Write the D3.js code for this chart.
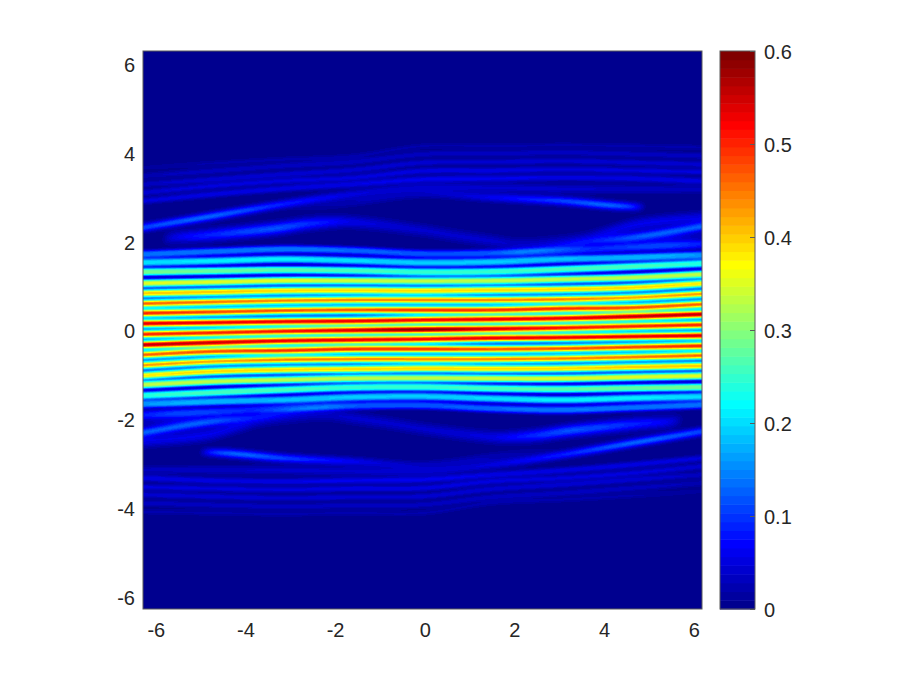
<!DOCTYPE html>
<html>
<head>
<meta charset="utf-8">
<style>
html,body{margin:0;padding:0;background:#fff;}
svg{display:block;}
text{font-family:"Liberation Sans",Arial,sans-serif;}
</style>
<script src="https://cdn.jsdelivr.net/npm/d3@7"></script>
</head>
<body>
<svg id="chart" width="913" height="685"></svg>
<script>
// ---- tick labels -------------------------------------------------------
const axisTicks = [-6, -4, -2, 0, 2, 4, 6];
const colorTicks = [0, 0.1, 0.2, 0.3, 0.4, 0.5, 0.6];
const colorDomain = [0, 0.6];
const yDomain = [-6.29, 6.27];
const xAxisDomain = [-6.285, 6.185];
const fieldXDomain = [-6.283, 6.283];

// ---- crest lines of the field -------------------------------------------
// x positions where the crests of the stripes were read
const xKnots = [-6.28, -4.71, -3.14, -1.57, 0, 1.57, 3.14, 4.71, 6.28];

// central crest (through the origin, drawn once)
const centerY = [-0.106, -0.072, -0.038, -0.016, 0, 0.016, 0.038, 0.072, 0.106];
const centerV = [0.50, 0.50, 0.51, 0.54, 0.59, 0.54, 0.51, 0.50, 0.50];
const centerW = 0.09;

// stripes of the upper half; the lower half repeats them through the origin
const stripeY = [
  [0.135, 0.157, 0.180, 0.193, 0.216, 0.232, 0.254, 0.293, 0.344],
  [0.367, 0.396, 0.427, 0.441, 0.439, 0.441, 0.472, 0.495, 0.569],
  [0.585, 0.621, 0.652, 0.666, 0.666, 0.666, 0.682, 0.720, 0.803],
  [0.817, 0.846, 0.877, 0.884, 0.877, 0.891, 0.907, 0.945, 1.035],
  [1.042, 1.071, 1.102, 1.102, 1.093, 1.102, 1.132, 1.170, 1.244],
  [1.296, 1.318, 1.341, 1.327, 1.295, 1.305, 1.357, 1.417, 1.485],
  [1.507, 1.543, 1.582, 1.552, 1.505, 1.521, 1.582, 1.620, 1.672],
  [1.694, 1.755, 1.807, 1.777, 1.705, 1.717, 1.769, 1.845, 1.919]
];
const stripeV = [
  [0.54, 0.53, 0.53, 0.53, 0.52, 0.53, 0.53, 0.55, 0.56],
  [0.50, 0.48, 0.47, 0.47, 0.49, 0.49, 0.49, 0.47, 0.46],
  [0.46, 0.45, 0.44, 0.44, 0.44, 0.44, 0.44, 0.42, 0.43],
  [0.40, 0.40, 0.39, 0.39, 0.39, 0.39, 0.39, 0.39, 0.38],
  [0.35, 0.35, 0.35, 0.34, 0.33, 0.33, 0.33, 0.33, 0.33],
  [0.29, 0.28, 0.27, 0.26, 0.25, 0.25, 0.26, 0.26, 0.24],
  [0.20, 0.21, 0.21, 0.20, 0.19, 0.19, 0.18, 0.17, 0.15],
  [0.14, 0.14, 0.14, 0.13, 0.12, 0.12, 0.10, 0.07, 0.05]
];
const stripeW = [0.09, 0.09, 0.09, 0.09, 0.09, 0.09, 0.09, 0.09];
const stripeShape = [2, 2, 2, 2.3, 2.6, 3, 3, 2.6];

// faint filaments of the outer band, each with its own x positions
const filamentX = [
  [-6.28, -4.71, -3.14, -1.57, 0, 1.57, 3.14, 4.71, 6.28],
  [-5.9, -5.6, -4.86, -3.36, -2.46, -1.59, 0, 0.69, 1.57, 2.19, 3.14, 3.7, 4.83, 6.28],
  [1.45, 2.58, 3.7, 4.83, 6.28],
  [3.8, 4.7, 5.5, 6.28],
  [-3.14, -1.59, 0, 1.57, 3.14, 4.15, 4.71, 5.05],
  [-6.28, -4.71, -3.14, -1.57, 0, 1.57, 3.14, 4.71, 6.28],
  [-6.28, -4.71, -3.14, -1.57, 0, 1.57, 3.14, 4.71, 6.28],
  [-6.28, -4.71, -3.14, -1.57, 0, 1.57, 3.14, 4.71, 6.28],
  [-6.28, -4.71, -3.14, -1.57, 0, 1.57, 3.14, 4.71, 6.28],
  [-6.28, -4.71, -3.14, -1.57, 0, 1.57, 3.14, 4.71, 6.28]
];
const filamentY = [
  [2.295, 2.556, 2.819, 3.044, 3.195, 3.19, 3.17, 3.16, 3.156],
  [2.016, 2.07, 2.12, 2.27, 2.39, 2.42, 2.234, 2.12, 1.993, 1.919, 1.99, 2.07, 2.37, 2.52],
  [1.694, 1.807, 1.957, 2.09, 2.317],
  [1.95, 1.95, 1.96, 1.98],
  [2.668, 2.857, 3.044, 2.97, 2.893, 2.803, 2.767, 2.767],
  [2.894, 3.044, 3.171, 3.269, 3.381, 3.40, 3.419, 3.40, 3.344],
  [3.081, 3.231, 3.344, 3.419, 3.569, 3.58, 3.606, 3.58, 3.546],
  [3.269, 3.381, 3.494, 3.591, 3.756, 3.77, 3.793, 3.76, 3.719],
  [3.456, 3.569, 3.681, 3.771, 3.944, 3.96, 3.981, 3.95, 3.906],
  [3.644, 3.741, 3.831, 3.906, 4.13, 4.13, 4.15, 4.13, 4.10]
];
const filamentV = [
  [0.11, 0.125, 0.085, 0.05, 0.04, 0.04, 0.04, 0.035, 0.03],
  [0, 0.05, 0.085, 0.115, 0.09, 0.055, 0.04, 0.04, 0.04, 0.035, 0.035, 0.04, 0.055, 0.055],
  [0, 0.035, 0.06, 0.09, 0.115],
  [0, 0.04, 0.055, 0.035],
  [0, 0.025, 0.03, 0.06, 0.105, 0.125, 0.09, 0],
  [0.05, 0.055, 0.055, 0.055, 0.06, 0.06, 0.055, 0.055, 0.055],
  [0.045, 0.05, 0.05, 0.05, 0.055, 0.055, 0.05, 0.05, 0.05],
  [0.035, 0.045, 0.045, 0.045, 0.045, 0.045, 0.045, 0.045, 0.045],
  [0.025, 0.035, 0.035, 0.035, 0.035, 0.035, 0.035, 0.035, 0.035],
  [0.012, 0.02, 0.02, 0.02, 0.02, 0.02, 0.02, 0.02, 0.02]
];
const filamentW = [0.1, 0.14, 0.1, 0.24, 0.1, 0.075, 0.07, 0.07, 0.07, 0.07];

// ---- layout ------------------------------------------------------------
const plot = {left: 143, right: 702, top: 51, bottom: 609};
const bar = {left: 720, right: 755, top: 51, bottom: 609};
const axisColor = "#262626";
const edgeColor = "#5a5a5a";
const fontSize = 20;

const x = d3.scaleLinear().domain(xAxisDomain).range([plot.left, plot.right]);
const y = d3.scaleLinear().domain(yDomain).range([plot.bottom, plot.top]);
const fieldX = d3.scaleLinear().domain(fieldXDomain).range([plot.left, plot.right]);
const barY = d3.scaleLinear().domain(colorDomain).range([bar.bottom, bar.top]);

// MATLAB jet, 64 levels
function jetLevels(m) {
  const n = Math.ceil(m / 4), u = [];
  for (let i = 1; i <= n; i++) u.push(i / n);
  for (let i = 1; i < n; i++) u.push(1);
  for (let i = n; i >= 1; i--) u.push(i / n);
  const off = Math.ceil(n / 2) - (m % 4 === 1 ? 1 : 0);
  const out = d3.range(m).map(() => [0, 0, 0]);
  u.forEach((val, j) => {
    const g = off + j, r = g + n, b = g - n;
    if (r < m) out[r][0] = val;
    if (g < m) out[g][1] = val;
    if (b >= 0 && b < m) out[b][2] = val;
  });
  return out.map(c => d3.rgb(c[0] * 255, c[1] * 255, c[2] * 255));
}
const levels = jetLevels(64);
const color = d3.scaleQuantize().domain(colorDomain).range(levels);

// smooth curve through read points (Catmull-Rom on uneven knots)
function through(xs, ys) {
  const n = xs.length;
  const slope = xs.map((_, i) => {
    if (i === 0) return (ys[1] - ys[0]) / (xs[1] - xs[0]);
    if (i === n - 1) return (ys[n - 1] - ys[n - 2]) / (xs[n - 1] - xs[n - 2]);
    return (ys[i + 1] - ys[i - 1]) / (xs[i + 1] - xs[i - 1]);
  });
  return t => {
    if (t <= xs[0]) return ys[0];
    if (t >= xs[n - 1]) return ys[n - 1];
    const i = Math.max(0, d3.bisectRight(xs, t) - 1);
    const h = xs[i + 1] - xs[i], s = (t - xs[i]) / h;
    const s2 = s * s, s3 = s2 * s;
    return (2 * s3 - 3 * s2 + 1) * ys[i] + (s3 - 2 * s2 + s) * h * slope[i]
         + (-2 * s3 + 3 * s2) * ys[i + 1] + (s3 - s2) * h * slope[i + 1];
  };
}

const crests = [];
function addCrest(xs, ys, vs, w, p, mirrored) {
  crests.push({ya: through(xs, ys), va: through(xs, vs), w, p, mirrored, xMin: xs[0], xMax: xs[xs.length - 1]});
}
addCrest(xKnots, centerY, centerV, centerW, 2, false);
stripeY.forEach((s, i) => addCrest(xKnots, s, stripeV[i], stripeW[i], stripeShape[i], true));
filamentY.forEach((s, i) => addCrest(filamentX[i], s, filamentV[i], filamentW[i], 2, true));

// paint the field cell by cell
const imgW = plot.right - plot.left, imgH = plot.bottom - plot.top;
const cnv = document.createElement("canvas");
cnv.width = imgW; cnv.height = imgH;
const ctx = cnv.getContext("2d");
const img = ctx.createImageData(imgW, imgH);
const rowY = d3.range(imgH).map(r => y.invert(plot.top + r + 0.5));
for (let c = 0; c < imgW; c++) {
  const t = fieldX.invert(plot.left + c + 0.5);
  const active = [];
  crests.forEach(cr => {
    if (t >= cr.xMin && t <= cr.xMax) active.push({y: cr.ya(t), v: Math.max(0, cr.va(t)), w: cr.w, p: cr.p});
    if (cr.mirrored && -t >= cr.xMin && -t <= cr.xMax) active.push({y: -cr.ya(-t), v: Math.max(0, cr.va(-t)), w: cr.w, p: cr.p});
  });
  for (let r = 0; r < imgH; r++) {
    let val = 0;
    for (const a of active) {
      const d = Math.abs(rowY[r] - a.y) / a.w;
      if (d < 3.5) val += a.v * Math.exp(-Math.pow(d, a.p));
    }
    const col = color(Math.min(0.6, val));
    const k = 4 * (r * imgW + c);
    img.data[k] = col.r; img.data[k + 1] = col.g; img.data[k + 2] = col.b; img.data[k + 3] = 255;
  }
}
ctx.putImageData(img, 0, 0);

const svg = d3.select("#chart");
svg.append("image")
  .attr("x", plot.left).attr("y", plot.top)
  .attr("width", imgW).attr("height", imgH)
  .attr("preserveAspectRatio", "none")
  .attr("href", cnv.toDataURL());

svg.append("rect")
  .attr("x", plot.left).attr("y", plot.top)
  .attr("width", imgW).attr("height", imgH)
  .attr("fill", "none").attr("stroke", edgeColor).attr("stroke-width", 1);

// axes
const gx = svg.append("g").attr("transform", `translate(0,${plot.bottom})`)
  .call(d3.axisBottom(x).tickValues(axisTicks).tickSize(0).tickPadding(14).tickFormat(String));
const gy = svg.append("g").attr("transform", `translate(${plot.left},0)`)
  .call(d3.axisLeft(y).tickValues(axisTicks).tickSize(0).tickPadding(8).tickFormat(String));

// colour bar
const levelH = (bar.bottom - bar.top) / levels.length;
svg.append("g").selectAll("rect").data(levels).join("rect")
  .attr("x", bar.left)
  .attr("width", bar.right - bar.left)
  .attr("y", (d, i) => barY(colorDomain[0] + (i + 1) * (colorDomain[1] - colorDomain[0]) / levels.length))
  .attr("height", levelH + 0.5)
  .attr("fill", d => d);
svg.append("rect")
  .attr("x", bar.left).attr("y", bar.top)
  .attr("width", bar.right - bar.left).attr("height", bar.bottom - bar.top)
  .attr("fill", "none").attr("stroke", edgeColor).attr("stroke-width", 1);
const gc = svg.append("g").attr("transform", `translate(${bar.right},0)`)
  .call(d3.axisRight(barY).tickValues(colorTicks).tickSize(0).tickPadding(9).tickFormat(d => d === 0 ? "0" : d3.format(".1f")(d)));
gc.selectAll(".tick").append("line")
  .attr("x1", -5).attr("x2", 0).attr("stroke", edgeColor);

[gx, gy, gc].forEach(g => {
  g.select(".domain").remove();
  g.selectAll("text").attr("fill", axisColor).style("font-size", fontSize + "px")
    .style("font-family", '"Liberation Sans",Arial,sans-serif');
});
gy.selectAll("text").attr("dy", "0.42em");
gc.selectAll("text").attr("dy", "0.36em");
</script>
</body>
</html>
